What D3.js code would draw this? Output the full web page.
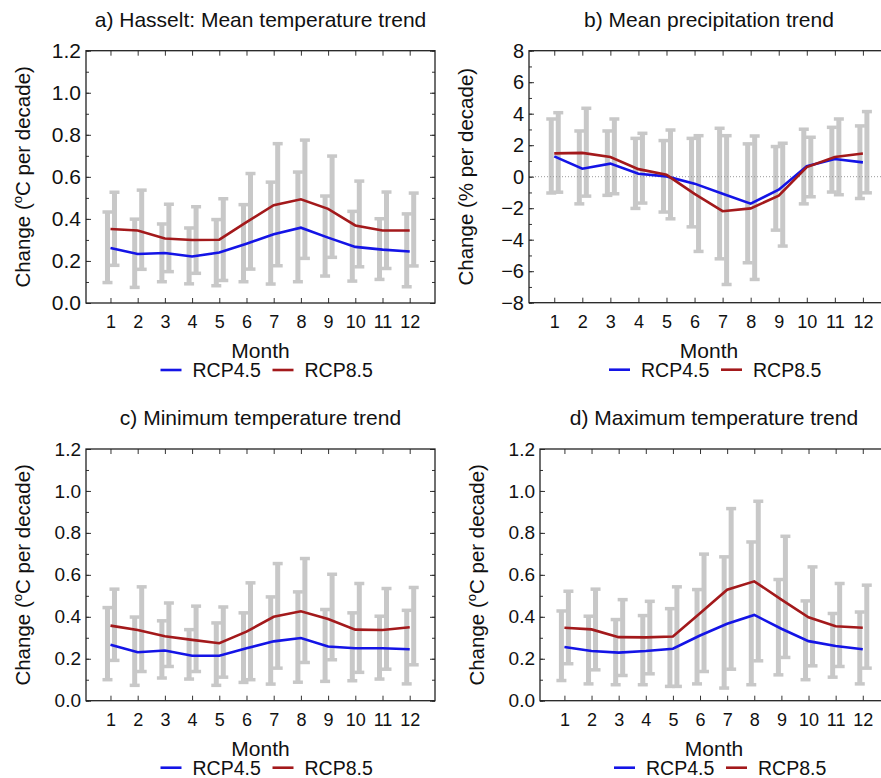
<!DOCTYPE html>
<html>
<head>
<meta charset="utf-8">
<script src="https://cdn.jsdelivr.net/npm/d3@7"></script>
<style>
  body { margin: 0; background: #fff; }
  text { font-family: "Liberation Sans", Arial, sans-serif; fill: #111; }
</style>
</head>
<body>
<div id="chart"></div>
<script>
var months = [1, 2, 3, 4, 5, 6, 7, 8, 9, 10, 11, 12];

// a) mean temperature (degC per decade)
var tmean45 = [0.262, 0.233, 0.238, 0.221, 0.240, 0.282, 0.327, 0.358, 0.311, 0.267, 0.254, 0.245];
var tmean85 = [0.352, 0.345, 0.307, 0.300, 0.301, 0.385, 0.465, 0.493, 0.448, 0.369, 0.345, 0.345];
var tmean45Lo = [0.096, 0.073, 0.100, 0.090, 0.081, 0.100, 0.089, 0.100, 0.127, 0.103, 0.111, 0.076];
var tmean45Hi = [0.434, 0.400, 0.377, 0.358, 0.398, 0.469, 0.576, 0.624, 0.510, 0.437, 0.402, 0.425];
var tmean85Lo = [0.178, 0.159, 0.148, 0.140, 0.106, 0.160, 0.176, 0.211, 0.216, 0.171, 0.163, 0.175];
var tmean85Hi = [0.528, 0.538, 0.471, 0.459, 0.497, 0.617, 0.759, 0.776, 0.700, 0.581, 0.529, 0.524];

// b) mean precipitation (% per decade)
var prec45 = [1.29, 0.51, 0.83, 0.19, 0.02, -0.44, -1.08, -1.71, -0.83, 0.66, 1.12, 0.91];
var prec85 = [1.48, 1.51, 1.25, 0.48, 0.12, -1.09, -2.19, -2.01, -1.21, 0.61, 1.25, 1.47];
var prec45Lo = [-1.05, -1.74, -1.20, -2.03, -2.26, -3.20, -5.23, -5.48, -3.41, -1.74, -0.99, -1.40];
var prec45Hi = [3.68, 2.92, 2.92, 2.45, 2.31, 2.45, 3.09, 2.10, 1.93, 3.03, 3.15, 3.24];
var prec85Lo = [-1.00, -1.25, -1.10, -1.69, -2.69, -4.76, -6.86, -6.54, -4.42, -1.29, -1.16, -1.04];
var prec85Hi = [4.08, 4.36, 3.68, 2.77, 2.98, 2.62, 2.62, 2.60, 2.14, 2.52, 3.68, 4.15];

// c) minimum temperature
var tmin45 = [0.267, 0.231, 0.239, 0.214, 0.214, 0.250, 0.283, 0.299, 0.258, 0.250, 0.250, 0.245];
var tmin85 = [0.358, 0.337, 0.307, 0.290, 0.274, 0.329, 0.400, 0.426, 0.389, 0.339, 0.337, 0.350];
var tmin45Lo = [0.099, 0.072, 0.107, 0.102, 0.072, 0.086, 0.078, 0.087, 0.091, 0.094, 0.102, 0.079];
var tmin45Hi = [0.445, 0.400, 0.382, 0.340, 0.372, 0.420, 0.496, 0.520, 0.436, 0.420, 0.404, 0.432];
var tmin85Lo = [0.191, 0.138, 0.162, 0.138, 0.111, 0.099, 0.154, 0.181, 0.194, 0.134, 0.149, 0.170];
var tmin85Hi = [0.533, 0.544, 0.467, 0.452, 0.448, 0.563, 0.655, 0.679, 0.604, 0.560, 0.536, 0.541];

// d) maximum temperature
var tmax45 = [0.256, 0.237, 0.229, 0.237, 0.248, 0.311, 0.367, 0.409, 0.343, 0.284, 0.261, 0.245];
var tmax85 = [0.348, 0.340, 0.303, 0.302, 0.306, 0.417, 0.529, 0.569, 0.482, 0.398, 0.355, 0.348];
var tmax45Lo = [0.095, 0.079, 0.075, 0.075, 0.067, 0.079, 0.059, 0.075, 0.122, 0.099, 0.111, 0.079];
var tmax45Hi = [0.429, 0.404, 0.388, 0.407, 0.440, 0.531, 0.687, 0.758, 0.579, 0.477, 0.417, 0.424];
var tmax85Lo = [0.175, 0.146, 0.119, 0.127, 0.067, 0.138, 0.149, 0.189, 0.205, 0.165, 0.162, 0.154];
var tmax85Hi = [0.523, 0.533, 0.483, 0.475, 0.544, 0.700, 0.917, 0.952, 0.785, 0.639, 0.560, 0.552];

var tempTicks = [0.0, 0.2, 0.4, 0.6, 0.8, 1.0, 1.2];
var precTicks = [-8, -6, -4, -2, 0, 2, 4, 6, 8];
var seriesNames = ["RCP4.5", "RCP8.5"];

var blue = "#1414e6", red = "#a3191b", grey = "#c8c8c8";

var panels = [
  {title: "a) Hasselt: Mean temperature trend", left: 86, right: 435, top: 50.7, bottom: 303,
   ticks: tempTicks, minor: 0.1, fmt: d3.format(".1f"), unit: "temp", tickFont: 21,
   s45: tmean45, s85: tmean85, lo45: tmean45Lo, hi45: tmean45Hi, lo85: tmean85Lo, hi85: tmean85Hi},
  {title: "b) Mean precipitation trend", left: 529, right: 889, top: 50.7, bottom: 302.7,
   ticks: precTicks, minor: 1, fmt: d3.format("d"), unit: "prec", tickFont: 20, zero: true,
   s45: prec45, s85: prec85, lo45: prec45Lo, hi45: prec45Hi, lo85: prec85Lo, hi85: prec85Hi},
  {title: "c) Minimum temperature trend", left: 86, right: 435, top: 449, bottom: 700.7,
   ticks: tempTicks, minor: 0.1, fmt: d3.format(".1f"), unit: "temp", tickFont: 19,
   s45: tmin45, s85: tmin85, lo45: tmin45Lo, hi45: tmin45Hi, lo85: tmin85Lo, hi85: tmin85Hi},
  {title: "d) Maximum temperature trend", left: 540, right: 888, top: 449, bottom: 700.7,
   ticks: tempTicks, minor: 0.1, fmt: d3.format(".1f"), unit: "temp", tickFont: 19,
   s45: tmax45, s85: tmax85, lo45: tmax45Lo, hi45: tmax45Hi, lo85: tmax85Lo, hi85: tmax85Hi}
];

var svg = d3.select("#chart").append("svg")
    .attr("width", 881)
    .attr("height", 778);

svg.append("rect").attr("width", 881).attr("height", 778).attr("fill", "#fff");

panels.forEach(drawPanel);

function drawPanel(p) {
  var g = svg.append("g");
  var x = d3.scaleLinear().domain([0.1, 12.93]).range([p.left, p.right]);
  var y = d3.scaleLinear().domain([p.ticks[0], p.ticks[p.ticks.length - 1]]).range([p.bottom, p.top]);
  var cx = (p.left + p.right) / 2;

  // grey whiskers, RCP4.5 left of the month, RCP8.5 right of it
  var bars = [];
  months.forEach(function(m, i) {
    bars.push({m: m, off: -3, lo: p.lo45[i], hi: p.hi45[i]});
    bars.push({m: m, off: 4, lo: p.lo85[i], hi: p.hi85[i]});
  });
  var bg = g.append("g").attr("fill", grey);
  bg.selectAll(".body").data(bars).enter().append("rect")
      .attr("x", function(d) { return x(d.m) + d.off - 2.5; })
      .attr("y", function(d) { return y(d.hi); })
      .attr("width", 5)
      .attr("height", function(d) { return y(d.lo) - y(d.hi); });
  bg.selectAll(".capHi").data(bars).enter().append("rect")
      .attr("x", function(d) { return x(d.m) + d.off - 5; })
      .attr("y", function(d) { return y(d.hi) - 1.5; })
      .attr("width", 10).attr("height", 3.5);
  bg.selectAll(".capLo").data(bars).enter().append("rect")
      .attr("x", function(d) { return x(d.m) + d.off - 5; })
      .attr("y", function(d) { return y(d.lo) - 2; })
      .attr("width", 10).attr("height", 3.5);

  if (p.zero) {
    g.append("line")
        .attr("x1", p.left).attr("x2", p.right)
        .attr("y1", y(0)).attr("y2", y(0))
        .attr("stroke", "#999").attr("stroke-width", 1)
        .attr("stroke-dasharray", "1,2");
  }

  var line = d3.line()
      .x(function(d, i) { return x(months[i]); })
      .y(function(d) { return y(d); });
  g.append("path").datum(p.s45)
      .attr("d", line).attr("fill", "none")
      .attr("stroke", blue).attr("stroke-width", 2.6);
  g.append("path").datum(p.s85)
      .attr("d", line).attr("fill", "none")
      .attr("stroke", red).attr("stroke-width", 2.6);

  // axes, ticks point inwards like the original
  var minorTicks = d3.range(p.ticks[0], p.ticks[p.ticks.length - 1] + p.minor / 2, p.minor);
  var left = g.append("g").attr("transform", "translate(" + p.left + ",0)")
      .call(d3.axisLeft(y).tickValues(p.ticks).tickSize(-5).tickPadding(5).tickFormat(p.fmt));
  left.selectAll("text").style("font-size", p.tickFont + "px");
  g.append("g").attr("transform", "translate(" + p.left + ",0)")
      .call(d3.axisLeft(y).tickValues(minorTicks).tickSize(-3).tickFormat(""));
  g.append("g").attr("transform", "translate(" + p.right + ",0)")
      .call(d3.axisRight(y).tickValues(p.ticks).tickSize(-5).tickFormat(""));
  g.append("g").attr("transform", "translate(" + p.right + ",0)")
      .call(d3.axisRight(y).tickValues(minorTicks).tickSize(-3).tickFormat(""));
  var bottom = g.append("g").attr("transform", "translate(0," + p.bottom + ")")
      .call(d3.axisBottom(x).tickValues(months).tickSize(-5).tickFormat(d3.format("d")));
  bottom.selectAll("text").attr("y", 25).attr("dy", 0).style("font-size", "18px");
  g.append("g").attr("transform", "translate(0," + p.top + ")")
      .call(d3.axisTop(x).tickValues(months).tickSize(-5).tickFormat(""));
  g.selectAll(".domain").remove();
  g.selectAll(".tick line").attr("stroke", "#333");

  g.append("rect")
      .attr("x", p.left).attr("y", p.top)
      .attr("width", p.right - p.left).attr("height", p.bottom - p.top)
      .attr("fill", "none").attr("stroke", "#222").attr("stroke-width", 1.3);

  // title and axis titles
  g.append("text")
      .attr("x", cx).attr("y", p.top - 24)
      .attr("text-anchor", "middle")
      .style("font-size", "21px")
      .text(p.title);
  g.append("text")
      .attr("x", cx).attr("y", p.bottom + 55)
      .attr("text-anchor", "middle")
      .style("font-size", "21px")
      .text("Month");

  var yl = g.append("text")
      .attr("text-anchor", "middle")
      .attr("transform", "translate(" + (p.left - 56) + "," + ((p.top + p.bottom) / 2) + ")rotate(-90)")
      .style("font-size", "20.5px");
  if (p.unit == "temp") {
    yl.append("tspan").text("Change (");
    yl.append("tspan").attr("dy", -8).style("font-size", "13px").text("o");
    yl.append("tspan").attr("dy", 8).text("C per decade)");
  } else {
    yl.append("tspan").text("Change (% per decade)");
  }

  // legend under the month label
  var lg = g.append("g").attr("transform", "translate(" + (cx - 100) + "," + (p.bottom + 67) + ")");
  [blue, red].forEach(function(c, i) {
    lg.append("line")
        .attr("x1", i * 112).attr("x2", i * 112 + 21)
        .attr("y1", 0).attr("y2", 0)
        .attr("stroke", c).attr("stroke-width", 2.6);
    lg.append("text")
        .attr("x", i * 112 + 32).attr("y", 7)
        .style("font-size", "19.5px")
        .text(seriesNames[i]);
  });
}
</script>
</body>
</html>
